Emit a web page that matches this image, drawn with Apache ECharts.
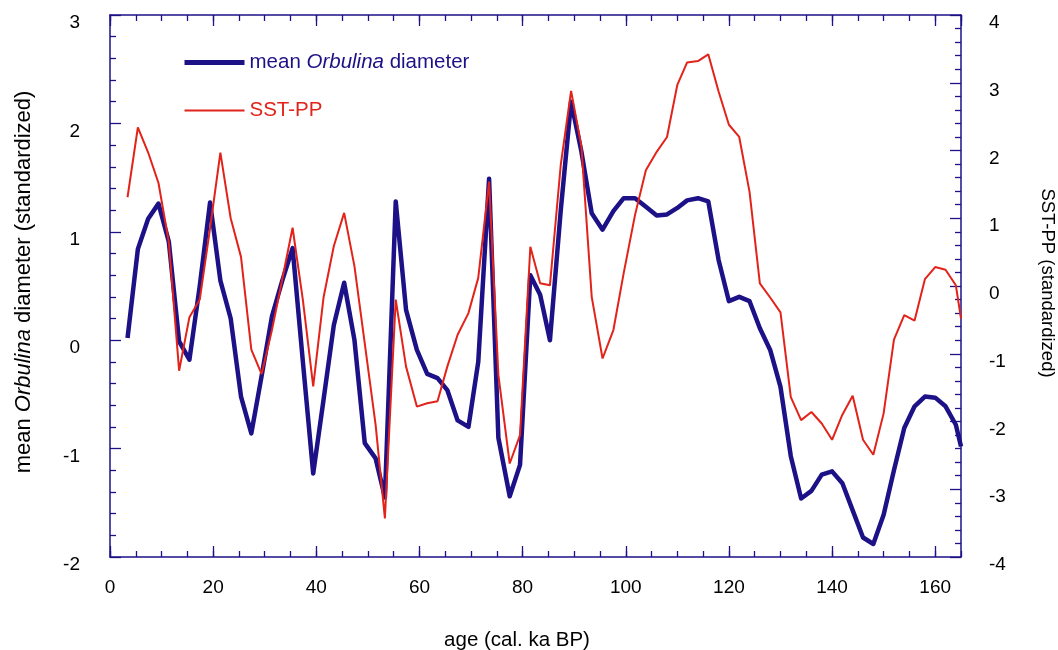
<!DOCTYPE html>
<html>
<head>
<meta charset="utf-8">
<script src="https://cdn.jsdelivr.net/npm/echarts@6/dist/echarts.min.js"></script>
<style>
html,body{margin:0;padding:0;background:#fff;}
#chart{width:1058px;height:650px;}
</style>
</head>
<body>
<div id="chart"></div>
<script>
// ages (cal. ka BP)
var ages = [3.4, 5.4, 7.4, 9.4, 11.4, 13.4, 15.4, 17.4, 19.4, 21.4, 23.4, 25.4, 27.4, 29.4, 31.4, 33.4, 35.4, 37.4, 39.4, 41.4,
  43.4, 45.4, 47.4, 49.4, 51.5, 53.3, 55.4, 57.4, 59.5, 61.5, 63.5, 65.4, 67.4, 69.5, 71.4, 73.5, 75.3, 77.5, 79.5, 81.5,
  83.4, 85.3, 87.4, 89.4, 91.4, 93.4, 95.5, 97.6, 99.6, 101.8, 103.9, 106, 108, 110, 111.9, 114, 116, 118, 120, 122,
  124, 126, 128, 130, 132, 134, 136, 138, 140, 142, 144, 146, 148, 150, 152, 154, 156, 158, 160, 162, 164, 165];
// mean Orbulina diameter (standardized), left axis
var orbulina = [0.02, 0.84, 1.12, 1.26, 0.91, -0.01, -0.18, 0.5, 1.27, 0.55, 0.2, -0.52, -0.86, -0.33, 0.22, 0.55, 0.85, -0.2, -1.23, -0.55,
  0.14, 0.53, 0.0, -0.95, -1.09, -1.45, 1.28, 0.28, -0.09, -0.31, -0.35, -0.46, -0.74, -0.8, -0.2, 1.49, -0.9, -1.44, -1.15, 0.6,
  0.42, 0.0, 1.2, 2.2, 1.74, 1.17, 1.02, 1.19, 1.31, 1.31, 1.23, 1.15, 1.16, 1.22, 1.29, 1.31, 1.28, 0.74, 0.36, 0.4,
  0.36, 0.11, -0.09, -0.43, -1.07, -1.46, -1.39, -1.24, -1.21, -1.32, -1.57, -1.82, -1.88, -1.61, -1.2, -0.81, -0.61, -0.52, -0.53, -0.61, -0.78, -0.98];
// SST-PP (standardized), right axis
var sstpp = [1.31, 2.34, 1.97, 1.52, 0.65, -1.25, -0.46, -0.2, 0.85, 1.97, 1.0, 0.43, -0.94, -1.3, -0.65, 0.1, 0.86, -0.21, -1.48, -0.17,
  0.59, 1.08, 0.29, -0.85, -2.05, -3.43, -0.2, -1.19, -1.78, -1.73, -1.7, -1.19, -0.72, -0.4, 0.12, 1.54, -1.31, -2.62, -2.2, 0.58,
  0.04, 0.01, 1.79, 2.88, 2.06, -0.16, -1.07, -0.65, 0.19, 1.05, 1.71, 1.98, 2.2, 2.97, 3.3, 3.32, 3.42, 2.87, 2.38, 2.2,
  1.39, 0.04, -0.17, -0.39, -1.64, -1.98, -1.86, -2.03, -2.27, -1.9, -1.62, -2.27, -2.49, -1.88, -0.79, -0.43, -0.51, 0.1, 0.28, 0.24, 0.01, -0.48];

var NAVY = '#1c1186';
var RED = '#e2231a';
var FONT = '"Liberation Sans", Arial, sans-serif';

function pairs(ys) { return ages.map(function (a, i) { return [a, ys[i]]; }); }

var chart = echarts.init(document.getElementById('chart'), null, { renderer: 'canvas' });

function xAx(pos, interval, len, labels, line) {
  return {
    type: 'value', position: pos, min: 0, max: 165, interval: interval,
    axisLine: { show: line, onZero: false, lineStyle: { color: NAVY, width: 1.5 } },
    axisTick: { show: true, inside: true, length: len, lineStyle: { color: NAVY, width: 1.3 } },
    axisLabel: labels ? { show: true, color: '#000', fontSize: 19, fontFamily: FONT, margin: 21, showMaxLabel: false } : { show: false },
    splitLine: { show: false }
  };
}
function yAx(pos, min, max, margin) {
  return {
    type: 'value', position: pos, min: min, max: max, interval: 1,
    axisLine: { show: true, onZero: false, lineStyle: { color: NAVY, width: 1.5 } },
    axisTick: { show: true, inside: true, length: 11, lineStyle: { color: NAVY, width: 1.3 } },
    minorTick: { show: true, splitNumber: 5, length: 6, lineStyle: { color: NAVY, width: 1.3 } },
    axisLabel: { color: '#000', fontSize: 19, fontFamily: FONT, margin: margin, verticalAlign: 'top', lineHeight: 16 },
    splitLine: { show: false }, minorSplitLine: { show: false }
  };
}

var option = {
  backgroundColor: '#fff',
  animation: false,
  grid: { left: 110, right: 97, top: 15, bottom: 93, containLabel: false },
  xAxis: [
    xAx('bottom', 5, 6, false, true),
    xAx('bottom', 20, 11, true, false),
    xAx('top', 5, 6, false, true),
    xAx('top', 20, 11, false, false)
  ],
  yAxis: [yAx('left', -2, 3, 30), yAx('right', -4, 4, 28)],
  legend: {
    orient: 'vertical', left: 177, top: 47, itemWidth: 60, itemHeight: 14, itemGap: 27,
    textStyle: { fontSize: 20.5, fontFamily: FONT, rich: { n: { fontSize: 20.5, fontFamily: FONT }, i: { fontSize: 20.5, fontFamily: FONT, fontStyle: 'italic' } } },
    formatter: function (name) { return name === 'mean Orbulina diameter' ? '{n|mean }{i|Orbulina}{n| diameter}' : name; },
    data: [
      { name: 'mean Orbulina diameter', textStyle: { color: NAVY }, itemStyle: { opacity: 0 }, lineStyle: { width: 5, color: NAVY } },
      { name: 'SST-PP', textStyle: { color: RED }, itemStyle: { opacity: 0 }, lineStyle: { width: 2, color: RED } }
    ]
  },
  graphic: [
    {
      type: 'text', x: 24, y: 282, rotation: Math.PI / 2,
      style: {
        text: '{n|mean }{i|Orbulina}{n| diameter (standardized)}', align: 'center', verticalAlign: 'middle',
        fill: '#000', font: '22px ' + FONT,
        rich: { n: { fontSize: 22, fontFamily: FONT, fill: '#000' }, i: { fontSize: 22, fontFamily: FONT, fontStyle: 'italic', fill: '#000' } }
      }
    },
    {
      type: 'text', x: 1047, y: 283, rotation: -Math.PI / 2,
      style: { text: 'SST-PP (standardized)', align: 'center', verticalAlign: 'middle', fill: '#000', font: '18.5px ' + FONT }
    },
    {
      type: 'text', x: 517, y: 640,
      style: { text: 'age (cal. ka BP)', align: 'center', verticalAlign: 'middle', fill: '#000', font: '20.5px ' + FONT }
    }
  ],
  series: [
    {
      name: 'mean Orbulina diameter', type: 'line', xAxisIndex: 0, yAxisIndex: 0,
      data: pairs(orbulina), symbol: 'none', smooth: false, z: 3,
      lineStyle: { color: NAVY, width: 4.5, join: 'round' }, itemStyle: { color: NAVY }
    },
    {
      name: 'SST-PP', type: 'line', xAxisIndex: 0, yAxisIndex: 1,
      data: pairs(sstpp), symbol: 'none', smooth: false, z: 4,
      lineStyle: { color: RED, width: 2 }, itemStyle: { color: RED }
    }
  ]
};
chart.setOption(option);
</script>
</body>
</html>
